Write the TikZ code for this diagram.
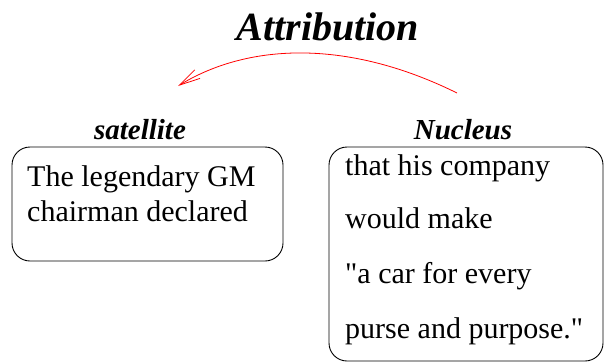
\documentclass[tikz,border=0pt]{standalone}
\usepackage{fontspec}
\setmainfont{Liberation Serif}
\usetikzlibrary{arrows.meta}
\begin{document}
\begin{tikzpicture}[x=1pt,y=-1pt,
  box/.style={draw,line width=0.9pt,rounded corners=18pt},
  bodytext/.style={inner sep=0pt,anchor=base west,font=\fontsize{30}{34}\selectfont},
  heading/.style={inner sep=0pt,anchor=base,font=\fontsize{29}{34}\selectfont\bfseries\itshape},
  relarrow/.style={draw=red,line width=0.8pt,-{Straight Barb[length=21pt,width=10pt]}}]
\useasboundingbox (0,0) rectangle (604,362);
\node[heading,font=\fontsize{40}{46}\selectfont\bfseries\itshape] (title) at (328,40) {Attribution};
\node[heading] (sath) at (140,139) {satellite};
\node[heading] (nuch) at (463,139) {Nucleus};
\draw[box] (12,147) rectangle (283,261);
\draw[box] (329,147) rectangle (603,361);
\node[bodytext] (s1) at (27,186) {The legendary GM};
\node[bodytext] (s2) at (27,221) {chairman declared};
\node[bodytext] (n1) at (345,175) {that his company};
\node[bodytext] (n2) at (345,228) {would make};
\node[bodytext] (n3) at (345,283) {\textquotedbl a car for every};
\node[bodytext] (n4) at (345,338) {purse and purpose.\textquotedbl};
\coordinate (astart) at (457,93);
\coordinate (aend) at (178,86);
\draw[relarrow] (astart) .. controls (350,40) and (250,42) .. (aend);
\end{tikzpicture}
\end{document}
